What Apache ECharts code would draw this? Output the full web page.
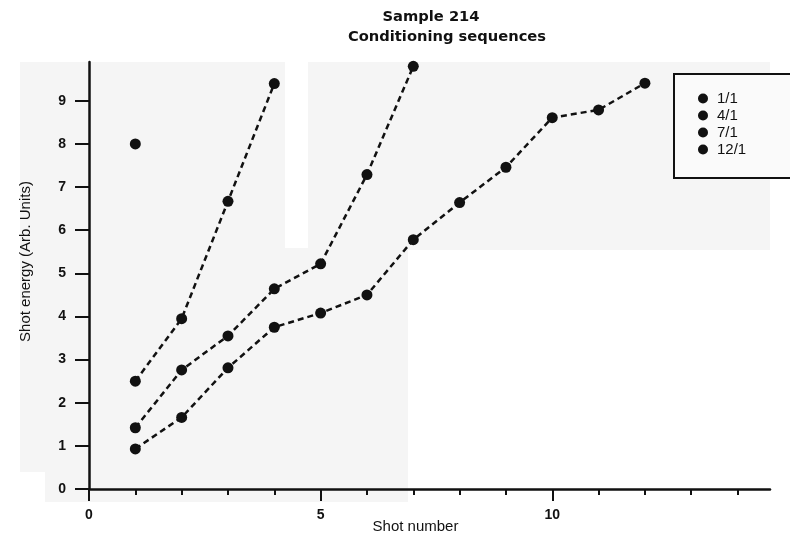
<!DOCTYPE html>
<html>
<head>
<meta charset="utf-8">
<script src="https://cdn.jsdelivr.net/npm/echarts@6/dist/echarts.min.js"></script>
<style>
html,body{margin:0;padding:0;background:#fff;}
#chart{width:790px;height:535px;}
</style>
</head>
<body>
<div id="chart"></div>
<script>
// Data
const seriesNames = ['1/1', '4/1', '7/1', '12/1'];
const shots1 = [1];
const energy1 = [8.0];
const shots4 = [1, 2, 3, 4];
const energy4 = [2.5, 3.95, 6.67, 9.4];
const shots7 = [1, 2, 3, 4, 5, 6, 7];
const energy7 = [1.42, 2.76, 3.55, 4.64, 5.22, 7.29, 9.8];
const shots12 = [1, 2, 3, 4, 5, 6, 7, 8, 9, 10, 11, 12];
const energy12 = [0.93, 1.66, 2.81, 3.75, 4.08, 4.5, 5.78, 6.64, 7.46, 8.61, 8.79, 9.41];
const yTickValues = [0, 1, 2, 3, 4, 5, 6, 7, 8, 9];
const xMinorTicks = [1, 2, 3, 4, 6, 7, 8, 9, 11, 12, 13, 14];
const xMajorTicks = [0, 5, 10];

function pairs(xs, ys) { return xs.map((x, i) => [x, ys[i]]); }

const chart = echarts.init(document.getElementById('chart'), null, {renderer: 'canvas'});
const ink = '#111';
const font = '"Liberation Sans", Arial, sans-serif';

const lineSeries = (name, data) => ({
  name: name,
  type: 'line',
  xAxisIndex: 0,
  yAxisIndex: 0,
  data: data,
  symbol: 'circle',
  symbolSize: 11,
  showSymbol: true,
  itemStyle: {color: ink},
  lineStyle: {color: ink, width: 2.5, type: [6, 4]},
  clip: false,
  z: 3
});

chart.setOption({
  backgroundColor: '#ffffff',
  animation: false,
  graphic: [
    {type: 'rect', shape: {x: 20, y: 62, width: 265, height: 410}, style: {fill: '#f5f5f5'}, z: -10, silent: true},
    {type: 'rect', shape: {x: 45, y: 472, width: 363, height: 30}, style: {fill: '#f5f5f5'}, z: -10, silent: true},
    {type: 'rect', shape: {x: 285, y: 248, width: 123, height: 254}, style: {fill: '#f5f5f5'}, z: -10, silent: true},
    {type: 'rect', shape: {x: 308, y: 62, width: 462, height: 188}, style: {fill: '#f5f5f5'}, z: -10, silent: true}
  ],
  title: [
    {text: 'Sample 214', left: 426, top: 5, textAlign: 'center',
     textStyle: {fontFamily: '"DejaVu Sans", sans-serif', fontWeight: 'bold', fontSize: 14.7, color: ink}},
    {text: 'Conditioning sequences', left: 442, top: 25, textAlign: 'center',
     textStyle: {fontFamily: '"DejaVu Sans", sans-serif', fontWeight: 'bold', fontSize: 14.7, color: ink}}
  ],
  legend: {
    orient: 'vertical',
    left: 674,
    top: 74,
    data: seriesNames.map(n => ({name: n, icon: 'circle'})),
    itemWidth: 10,
    itemHeight: 10,
    itemGap: 2,
    padding: [17, 60, 21, 24],
    borderColor: ink,
    borderWidth: 2,
    backgroundColor: '#fafafa',
    textStyle: {fontFamily: font, fontSize: 15, color: ink, lineHeight: 12, padding: [0, 0, 0, 4]},
    itemStyle: {color: ink}
  },
  grid: {left: 89, right: 20, top: 62, bottom: 46, containLabel: false, outerBoundsMode: 'none'},
  xAxis: [
    {
      type: 'value', min: 0, max: 14.7, position: 'bottom',
      name: 'Shot number', nameLocation: 'middle', nameGap: 30,
      nameTextStyle: {fontFamily: font, fontSize: 15, color: ink, padding: [0, 28, 0, 0]},
      axisLine: {show: true, onZero: false, lineStyle: {color: ink, width: 2.5}},
      axisTick: {show: true, inside: false, length: 6, customValues: xMinorTicks, lineStyle: {color: ink, width: 2}},
      axisLabel: {show: false},
      splitLine: {show: false}
    },
    {
      type: 'value', min: 0, max: 14.7, position: 'bottom',
      axisLine: {show: false, onZero: false},
      axisTick: {show: true, inside: false, length: 12, customValues: xMajorTicks, lineStyle: {color: ink, width: 2}},
      axisLabel: {show: true, customValues: xMajorTicks, margin: 19,
        fontFamily: font, fontWeight: 'bold', fontSize: 14, color: ink},
      splitLine: {show: false}
    }
  ],
  yAxis: {
    type: 'value', min: 0, max: 9.9,
    name: 'Shot energy (Arb. Units)', nameLocation: 'middle', nameGap: 56,
    nameTextStyle: {fontFamily: font, fontSize: 15, color: ink, padding: [0, 0, 0, 28]},
    axisLine: {show: true, onZero: false, lineStyle: {color: ink, width: 2.5}},
    axisTick: {show: true, inside: false, length: 14, customValues: yTickValues, lineStyle: {color: ink, width: 2}},
    axisLabel: {show: true, customValues: yTickValues, margin: 23,
      fontFamily: font, fontWeight: 'bold', fontSize: 14, color: ink},
    splitLine: {show: false}
  },
  series: [
    lineSeries('1/1', pairs(shots1, energy1)),
    lineSeries('4/1', pairs(shots4, energy4)),
    lineSeries('7/1', pairs(shots7, energy7)),
    lineSeries('12/1', pairs(shots12, energy12))
  ]
});
</script>
</body>
</html>
